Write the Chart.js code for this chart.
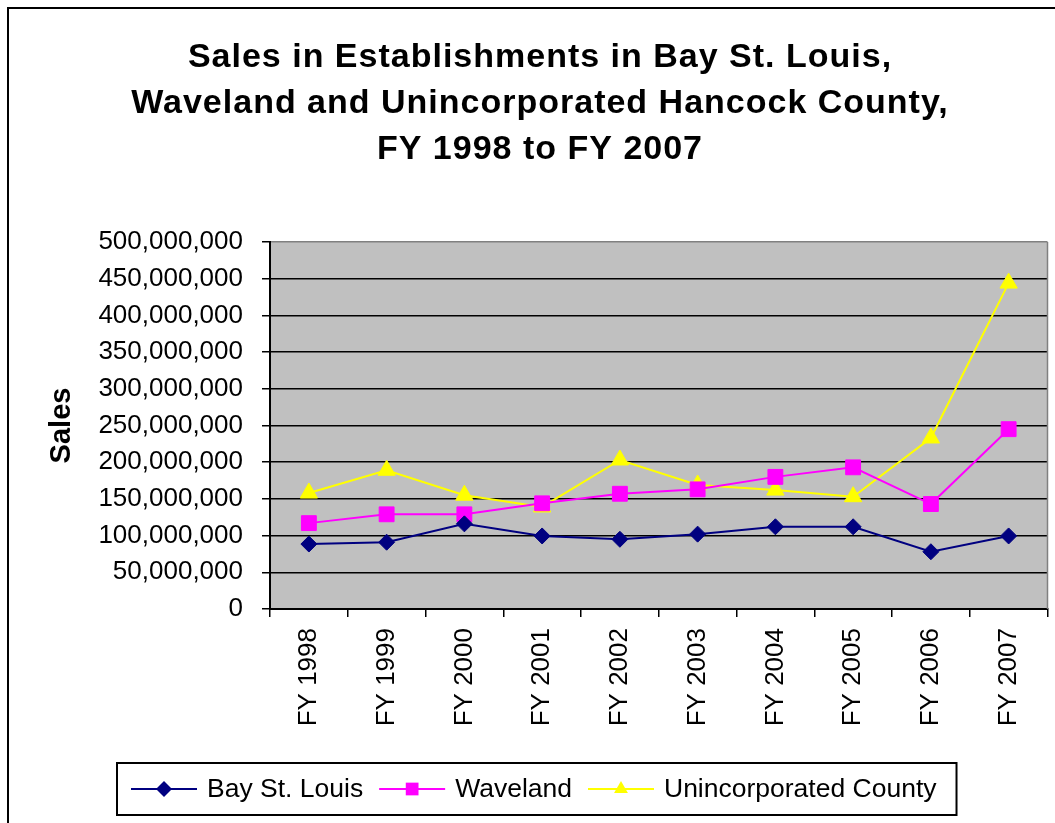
<!DOCTYPE html>
<html>
<head>
<meta charset="utf-8">
<script src="https://cdn.jsdelivr.net/npm/chart.js@4"></script>
<style>
html, body { margin: 0; padding: 0; background: #fff; overflow: hidden; }
#wrap { width: 1059px; height: 823px; }
</style>
</head>
<body>
<div id="wrap"><canvas id="salesChart"></canvas></div>
<script>
var titleLines = [
  'Sales in Establishments in Bay St. Louis,',
  'Waveland and Unincorporated Hancock County,',
  'FY 1998 to FY 2007'
];
var yTitle = 'Sales';
var years = ['FY 1998', 'FY 1999', 'FY 2000', 'FY 2001', 'FY 2002',
             'FY 2003', 'FY 2004', 'FY 2005', 'FY 2006', 'FY 2007'];
var bayStLouis = [88500000, 91000000, 116000000, 99500000, 95000000,
                  102000000, 112000000, 112000000, 78000000, 99500000];
var waveland = [117000000, 129000000, 129000000, 144000000, 157000000,
                163000000, 180000000, 193000000, 143000000, 245000000];
var unincorporated = [158000000, 189000000, 155000000, 139000000, 203000000,
                      169000000, 162000000, 153000000, 233000000, 444000000];
var yMax = 500000000;
var yStep = 50000000;

var fontFamily = '"Liberation Sans", Arial, sans-serif';

function drawMarker(ctx, style, x, y, r, color) {
  ctx.fillStyle = color;
  ctx.beginPath();
  if (style === 'rectRot') {
    ctx.moveTo(x, y - r); ctx.lineTo(x + r, y); ctx.lineTo(x, y + r); ctx.lineTo(x - r, y);
  } else if (style === 'rect') {
    var s = r * Math.SQRT1_2;
    ctx.rect(x - s, y - s, 2 * s, 2 * s);
  } else {
    ctx.moveTo(x, y - r);
    ctx.lineTo(x + r * 0.866, y + r * 0.5);
    ctx.lineTo(x - r * 0.866, y + r * 0.5);
  }
  ctx.closePath();
  ctx.fill();
}

var framePlugin = {
  id: 'frame',
  beforeDraw: function (chart) {
    var a = chart.chartArea, ctx = chart.ctx;
    ctx.save();
    ctx.fillStyle = '#c0c0c0';
    ctx.fillRect(a.left, a.top, a.right - a.left, a.bottom - a.top);
    ctx.restore();
  },
  afterDraw: function (chart) {
    var a = chart.chartArea, ctx = chart.ctx;
    ctx.save();
    // right edge of plot area
    ctx.strokeStyle = '#808080';
    ctx.lineWidth = 1.5;
    ctx.beginPath();
    ctx.moveTo(a.right, a.top);
    ctx.lineTo(a.right, a.bottom);
    ctx.stroke();
    // outer chart border
    ctx.strokeStyle = '#000';
    ctx.lineWidth = 2;
    ctx.strokeRect(8, 8, 1100, 900);
    // title
    ctx.fillStyle = '#000';
    ctx.font = 'bold 34px ' + fontFamily;
    ctx.letterSpacing = '1px';
    ctx.textAlign = 'center';
    ctx.textBaseline = 'middle';
    titleLines.forEach(function (t, i) {
      ctx.fillText(t, 540, 58 + i * 46);
    });
    ctx.letterSpacing = '0px';
    // legend
    ctx.font = '26.5px ' + fontFamily;
    ctx.textAlign = 'left';
    var sets = chart.data.datasets;
    var lineLen = 66, gapText = 10, gapItem = 16;
    var total = 0;
    sets.forEach(function (d, i) {
      total += lineLen + gapText + ctx.measureText(d.label).width;
      if (i < sets.length - 1) total += gapItem;
    });
    var x = 131, ly = 789;
    ctx.lineWidth = 2;
    ctx.strokeStyle = '#000';
    ctx.strokeRect(117, 763, (x + total + 20) - 117, 52);
    sets.forEach(function (d) {
      ctx.strokeStyle = d.borderColor;
      ctx.lineWidth = 2;
      ctx.beginPath();
      ctx.moveTo(x, ly);
      ctx.lineTo(x + lineLen, ly);
      ctx.stroke();
      drawMarker(ctx, d.pointStyle, x + lineLen / 2, ly, d.pointStyle === 'rect' ? 9 : 8, d.borderColor);
      x += lineLen + gapText;
      ctx.fillStyle = '#000';
      ctx.fillText(d.label, x, ly + 1);
      x += ctx.measureText(d.label).width + gapItem;
    });
    ctx.restore();
  }
};

new Chart(document.getElementById('salesChart'), {
  type: 'line',
  data: {
    labels: years,
    datasets: [
      { label: 'Bay St. Louis', data: bayStLouis, borderColor: '#000080', backgroundColor: '#000080',
        pointStyle: 'rectRot', pointRadius: 8, pointBorderWidth: 1, borderWidth: 2, tension: 0 },
      { label: 'Waveland', data: waveland, borderColor: '#ff00ff', backgroundColor: '#ff00ff',
        pointStyle: 'rect', pointRadius: 10.5, pointBorderWidth: 1, borderWidth: 2, tension: 0 },
      { label: 'Unincorporated County', data: unincorporated, borderColor: '#ffff00', backgroundColor: '#ffff00',
        pointStyle: 'triangle', pointRadius: 10, pointBorderWidth: 1, borderWidth: 2, tension: 0 }
    ]
  },
  options: {
    responsive: true,
    maintainAspectRatio: false,
    animation: false,
    layout: { padding: { top: 242, right: 4, left: 0, bottom: 0 } },
    plugins: {
      legend: { display: false },
      title: { display: false },
      tooltip: { enabled: false }
    },
    scales: {
      x: {
        offset: true,
        ticks: { minRotation: 90, maxRotation: 90, autoSkip: false, color: '#000',
                 font: { family: fontFamily, size: 26 }, padding: 11 },
        grid: { offset: true, drawOnChartArea: false, tickLength: 8, color: '#000', lineWidth: 1.5 },
        border: { color: '#000', width: 2 },
        afterFit: function (s) { s.height = 214; }
      },
      y: {
        min: 0,
        max: yMax,
        ticks: { stepSize: yStep, color: '#000', font: { family: fontFamily, size: 26 }, padding: 19,
                 callback: function (v) { return v.toLocaleString('en-US'); } },
        grid: {
          color: function (c) { return c.tick && c.tick.value === yMax ? '#808080' : '#000'; },
          tickColor: '#000', lineWidth: 1.5, tickLength: 8
        },
        border: { color: '#000', width: 2 },
        title: { display: true, text: yTitle, color: '#000',
                 font: { family: fontFamily, size: 29, weight: 'bold' }, padding: { top: 45, bottom: 0 } },
        afterFit: function (s) { s.width = 270; }
      }
    }
  },
  plugins: [framePlugin]
});
</script>
</body>
</html>
